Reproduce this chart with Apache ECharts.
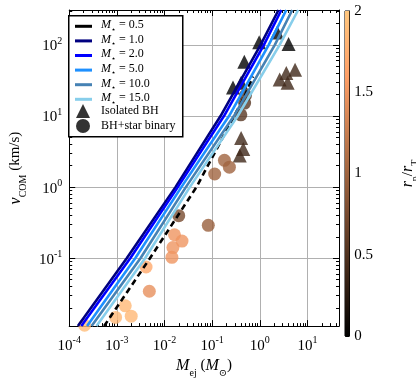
<!DOCTYPE html>
<html>
<head>
<meta charset="utf-8">
<script src="https://cdn.jsdelivr.net/npm/echarts@6/dist/echarts.min.js"></script>
<style>
  html, body { margin: 0; padding: 0; background: #fff; }
  #chart { width: 416px; height: 383px; }
</style>
</head>
<body>
<div id="chart"></div>
<script>
// axis ranges and tick labels
const xMin = 1e-4, xMax = 46;
const yMin = 0.0111, yMax = 310;
const xTicks = [1e-4, 1e-3, 1e-2, 1e-1, 1, 10];
const xTickLabels = ['-4', '-3', '-2', '-1', '0', '1'];
const yTicks = [0.1, 1, 10, 100];
const yTickLabels = ['-1', '0', '1', '2'];
const cbTicks = [0, 0.5, 1, 1.5, 2];
const cbTickLabels = ['0', '0.5', '1', '1.5', '2'];

const lineNames = ['0.5', '1.0', '2.0', '5.0', '10.0', '15.0'];
const lineColors = ['#000000', '#000080', '#0000ff', '#1e90ff', '#4682b4', '#87ceeb'];
const vDashed = [0.0111, 0.1, 1, 17.4, 36];
const vLevels = [0.0111, 0.1, 1, 10, 100, 310];
const mStar05 = [5.4e-4, 4.95e-3, 0.0468, 0.451, 0.724];
const mStar1 = [1.52e-4, 1.61e-3, 0.0170, 0.150, 1.04, 2.47];
const mStar2 = [1.79e-4, 1.91e-3, 0.0190, 0.177, 1.22, 2.84];
const mStar5 = [2.37e-4, 2.43e-3, 0.0226, 0.226, 1.54, 3.6];
const mStar10 = [2.95e-4, 3.13e-3, 0.0281, 0.286, 2.07, 4.8];
const mStar15 = [3.74e-4, 3.91e-3, 0.0340, 0.344, 2.61, 6.4];

// simulations: M_ej, v_COM, rp/rT
const isoM = [0.97, 2.32, 4.02, 0.474, 0.274, 0.406, 2.62, 3.6, 3.84, 5.5, 0.406, 0.45, 0.38];
const isoV = [109, 149, 103, 58, 25.1, 29.4, 32.6, 40.2, 29.4, 44.6, 4.9, 3.44, 2.79];
const isoR = [0, 0, 0, 0, 0, 0, 0.4, 0.4, 0.4, 0.4, 0.4, 0.4, 0.4];

const binM = [0.50, 0.48, 0.40, 0.181, 0.23, 0.113, 0.0199, 0.083, 0.0162, 0.0233, 0.015, 0.0143, 0.0041, 0.0048, 0.0015, 0.00094, 0.0020, 0.00021];
const binV = [19.5, 15.2, 10.4, 2.38, 1.91, 1.53, 0.397, 0.29, 0.214, 0.174, 0.141, 0.103, 0.0752, 0.0343, 0.0214, 0.0147, 0.0153, 0.0114];
const binR = [0.55, 0.55, 0.55, 1.0, 1.0, 1.0, 0.75, 0.95, 1.5, 1.5, 1.5, 1.5, 1.7, 1.45, 1.85, 1.85, 1.85, 1.9];

const cbMax = 2;

// copper colormap
const copper = ['#000000', '#402819', '#805033', '#bf784c', '#ff9f66', '#ffc77f'];

const serif = "'Liberation Serif', 'DejaVu Serif', serif";

const zip = (xs, ys) => xs.map((x, i) => [x, ys[i]]);
const zip3 = (xs, ys, cs) => xs.map((x, i) => [x, ys[i], cs[i]]);

// minor ticks at 2..9 x 10^n
const minorTicks = (lo, hi) => {
    const out = [];
    for (let n = lo; n <= hi; n++) {
        for (let k = 2; k <= 9; k++) out.push(k * Math.pow(10, n));
    }
    return out;
};
const xMinor = minorTicks(-4, 1).filter(v => v < xMax);
const yMinor = minorTicks(-2, 2).filter(v => v > yMin && v < yMax);

const powFormatter = (ticks, labels) => (v) => {
    const i = ticks.findIndex(t => Math.abs(Math.log10(t) - Math.log10(v)) < 1e-6);
    return i < 0 ? '' : '{b|10}{s|' + labels[i] + '}';
};
const powRich = {
    b: {fontSize: 15, fontFamily: serif, color: '#000', lineHeight: 18, verticalAlign: 'bottom'},
    s: {fontSize: 10, fontFamily: serif, color: '#000', lineHeight: 18, verticalAlign: 'top'}
};
const mathRich = {
    i: {fontSize: 16, fontFamily: serif, fontStyle: 'italic', color: '#000', lineHeight: 20, verticalAlign: 'top'},
    n: {fontSize: 15, fontFamily: serif, color: '#000', lineHeight: 20, verticalAlign: 'top'},
    sub: {fontSize: 10, fontFamily: serif, color: '#000', lineHeight: 20, verticalAlign: 'bottom'}
};

const tickLine = {color: '#000', width: 1};

const majorAxis = (pos, grid, min, max, ticks, extra) => Object.assign({
    gridIndex: grid, type: 'log', logBase: 10, min: min, max: max, position: pos,
    axisLine: {show: true, lineStyle: {color: '#000', width: 1}},
    axisTick: {show: true, inside: true, length: 6, customValues: ticks, lineStyle: tickLine},
    axisLabel: {show: false},
    splitLine: {show: false}
}, extra);

const minorAxis = (pos, grid, min, max, ticks) => ({
    gridIndex: grid, type: 'log', logBase: 10, min: min, max: max, position: pos,
    axisLine: {show: false},
    axisTick: {show: true, inside: true, length: 3, customValues: ticks, lineStyle: tickLine},
    axisLabel: {show: false},
    splitLine: {show: false}
});

const chart = echarts.init(document.getElementById('chart'));

const lineData = [
    zip(mStar05, vDashed),
    zip(mStar1, vLevels),
    zip(mStar2, vLevels),
    zip(mStar5, vLevels),
    zip(mStar10, vLevels),
    zip(mStar15, vLevels)
];

const lineSeries = lineNames.map((n, i) => ({
    name: 'M' + n,
    type: 'line',
    xAxisIndex: 0,
    yAxisIndex: 0,
    data: lineData[i],
    showSymbol: false,
    silent: true,
    lineStyle: {color: lineColors[i], width: 2.6, type: i === 0 ? [6, 4] : 'solid'},
    itemStyle: {color: lineColors[i]}
}));

const option = {
    animation: false,
    backgroundColor: '#fff',
    grid: [
        {left: 65, top: 10, width: 274, height: 326},
        {left: 345, top: 11, width: 17, height: 325, show: true, borderColor: '#000', borderWidth: 1}
    ],
    xAxis: [
        majorAxis('bottom', 0, xMin, xMax, xTicks, {
            axisLabel: {show: true, customValues: xTicks, margin: 9, formatter: powFormatter(xTicks, xTickLabels), rich: powRich},
            splitLine: {show: true, lineStyle: {color: '#b0b0b0', width: 1}},
            name: '{i|M}{sub|ej}{n| (}{i|M}{sub|⊙}{n|)}',
            nameLocation: 'middle',
            nameGap: 31,
            nameTextStyle: {rich: mathRich}
        }),
        majorAxis('top', 0, xMin, xMax, xTicks),
        minorAxis('bottom', 0, xMin, xMax, xMinor),
        minorAxis('top', 0, xMin, xMax, xMinor),
        {gridIndex: 1, type: 'category', data: [''], show: false}
    ],
    yAxis: [
        majorAxis('left', 0, yMin, yMax, yTicks, {
            axisLabel: {show: true, customValues: yTicks, margin: 7, formatter: powFormatter(yTicks, yTickLabels), rich: powRich},
            splitLine: {show: true, lineStyle: {color: '#b0b0b0', width: 1}},
            name: '{i|v}{sub|COM}{n| (km/s)}',
            nameLocation: 'middle',
            nameGap: 34,
            nameTextStyle: {rich: mathRich}
        }),
        majorAxis('right', 0, yMin, yMax, yTicks),
        minorAxis('left', 0, yMin, yMax, yMinor),
        minorAxis('right', 0, yMin, yMax, yMinor),
        {
            gridIndex: 1, type: 'value', min: 0, max: cbMax, position: 'right',
            axisLine: {show: true, lineStyle: {color: '#000', width: 1}},
            axisTick: {show: true, inside: true, length: 4, customValues: cbTicks, lineStyle: tickLine},
            axisLabel: {
                customValues: cbTicks, margin: 5, color: '#000', fontFamily: serif, fontSize: 15,
                formatter: v => cbTickLabels[cbTicks.indexOf(v)]
            },
            splitLine: {show: false},
            name: '{i|r}{sub|p}{n|/}{i|r}{sub|T}',
            nameLocation: 'middle',
            nameRotate: 90,
            nameGap: 51,
            nameTextStyle: {rich: mathRich}
        }
    ],
    visualMap: {
        type: 'continuous', show: false, min: 0, max: 2, dimension: 2,
        seriesIndex: [6, 7],
        inRange: {color: copper}
    },
    legend: [
        {
            orient: 'vertical', left: 75, top: 19, padding: 0, itemGap: 0,
            itemWidth: 17, itemHeight: 3, icon: 'rect', selectedMode: false,
            data: lineNames.map(n => 'M' + n),
            formatter: name => '{i|M}{s|⋆}{n| = ' + name.slice(1) + '}',
            textStyle: {
                padding: [0, 0, 0, 4],
                rich: {
                    i: {fontSize: 12, fontFamily: serif, fontStyle: 'italic', color: '#000', lineHeight: 14.6, verticalAlign: 'top'},
                    s: {fontSize: 8, fontFamily: "'DejaVu Sans', sans-serif", color: '#000', lineHeight: 14.6, verticalAlign: 'bottom'},
                    n: {fontSize: 12, fontFamily: serif, color: '#000', lineHeight: 14.6, verticalAlign: 'top'}
                }
            }
        },
        {
            orient: 'vertical', left: 76, top: 104, padding: 0, itemGap: 1,
            itemWidth: 14, itemHeight: 14, selectedMode: false,
            data: [
                {name: 'Isolated BH', icon: 'triangle', itemStyle: {color: '#000'}},
                {name: 'BH+star binary', icon: 'circle', itemStyle: {color: '#000'}}
            ],
            textStyle: {padding: [0, 0, 0, 6], fontSize: 12, fontFamily: serif, color: '#000'}
        }
    ],
    graphic: [{
        type: 'rect', left: 68, top: 15, z: 3,
        shape: {width: 114, height: 121},
        style: {fill: '#fff', stroke: '#000', lineWidth: 1.5}
    }],
    series: lineSeries.concat([
        {
            name: 'Isolated BH', type: 'scatter', xAxisIndex: 0, yAxisIndex: 0,
            symbol: 'triangle', symbolSize: 14, silent: true,
            data: zip3(isoM, isoV, isoR)
        },
        {
            name: 'BH+star binary', type: 'scatter', xAxisIndex: 0, yAxisIndex: 0,
            symbol: 'circle', symbolSize: 13, silent: true,
            data: zip3(binM, binV, binR)
        },
        {
            type: 'bar', xAxisIndex: 4, yAxisIndex: 4, barWidth: '100%', silent: true,
            data: [cbMax],
            itemStyle: {
                color: new echarts.graphic.LinearGradient(0, 1, 0, 0,
                    copper.map((c, i) => ({offset: i / (copper.length - 1), color: c})))
            }
        }
    ])
};

chart.setOption(option);
</script>
</body>
</html>
